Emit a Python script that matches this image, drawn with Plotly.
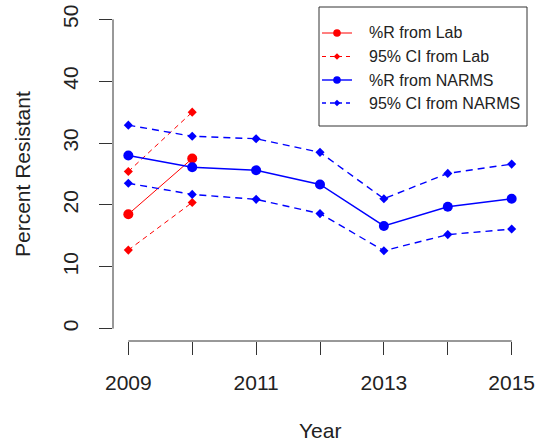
import plotly.graph_objects as go

years = [2009, 2010, 2011, 2012, 2013, 2014, 2015]
lab_years = [2009, 2010]
lab_pct = [18.5, 27.5]
lab_ci_upper = [25.4, 35.0]
lab_ci_lower = [12.7, 20.4]
narms_pct = [28.0, 26.1, 25.6, 23.3, 16.6, 19.7, 21.0]
narms_ci_upper = [32.9, 31.1, 30.7, 28.5, 21.0, 25.1, 26.6]
narms_ci_lower = [23.5, 21.7, 20.9, 18.6, 12.6, 15.2, 16.1]
x_tick_vals = [2009, 2010, 2011, 2012, 2013, 2014, 2015]
x_tick_text = ["2009", "", "2011", "", "2013", "", "2015"]
y_tick_vals = [0, 10, 20, 30, 40, 50]
legend_labels = ["%R from Lab", "95% CI from Lab", "%R from NARMS", "95% CI from NARMS"]

RED = "#FF0000"
BLUE = "#0000FF"
FONT = "Liberation Sans, Arial, sans-serif"
RED_DASH = "5px,4px"
BLUE_DASH = "7px,5px"

fig = go.Figure()

fig.add_trace(go.Scatter(x=lab_years, y=lab_pct, mode="lines+markers", name=legend_labels[0],
                         line=dict(color=RED, width=1), marker=dict(symbol="circle", size=10, color=RED)))
fig.add_trace(go.Scatter(x=lab_years, y=lab_ci_upper, mode="lines+markers", name=legend_labels[1],
                         line=dict(color=RED, width=1, dash=RED_DASH),
                         marker=dict(symbol="diamond", size=7, color=RED)))
fig.add_trace(go.Scatter(x=lab_years, y=lab_ci_lower, mode="lines+markers", name=legend_labels[1],
                         line=dict(color=RED, width=1, dash=RED_DASH),
                         marker=dict(symbol="diamond", size=7, color=RED)))
fig.add_trace(go.Scatter(x=years, y=narms_pct, mode="lines+markers", name=legend_labels[2],
                         line=dict(color=BLUE, width=1.4), marker=dict(symbol="circle", size=10, color=BLUE)))
fig.add_trace(go.Scatter(x=years, y=narms_ci_upper, mode="lines+markers", name=legend_labels[3],
                         line=dict(color=BLUE, width=1.4, dash=BLUE_DASH),
                         marker=dict(symbol="diamond", size=7, color=BLUE)))
fig.add_trace(go.Scatter(x=years, y=narms_ci_lower, mode="lines+markers", name=legend_labels[3],
                         line=dict(color=BLUE, width=1.4, dash=BLUE_DASH),
                         marker=dict(symbol="diamond", size=7, color=BLUE)))

# layout geometry (pixels)
W, H = 537, 445
ML, MR, MT, MB = 113, 10, 7, 104
PW, PH = W - ML - MR, H - MT - MB


def px_x(p):
    return (p - ML) / PW


def px_y(p):
    return (H - MB - p) / PH


axis_color = "#333333"
shapes = [
    dict(type="line", xref="x", yref="paper", x0=2009, x1=2015, y0=0, y1=0,
         line=dict(color=axis_color, width=1)),
    dict(type="line", xref="paper", yref="y", x0=0, x1=0, y0=0, y1=50,
         line=dict(color=axis_color, width=1)),
    # legend box
    dict(type="rect", xref="paper", yref="paper", x0=px_x(319), x1=px_x(527), y0=px_y(126), y1=px_y(7),
         line=dict(color=axis_color, width=1), fillcolor="rgba(0,0,0,0)"),
]
annotations = [
    dict(text="Year", xref="paper", yref="paper", x=0.5, y=px_y(444), showarrow=False,
         xanchor="center", yanchor="bottom", font=dict(size=21)),
    dict(text="Percent Resistant", xref="paper", yref="paper", x=px_x(22), y=0.5, showarrow=False,
         xanchor="center", yanchor="middle", textangle=-90, font=dict(size=21)),
]

legend_styles = [
    (RED, 1, None, "circle"),
    (RED, 1, "dash", "diamond"),
    (BLUE, 1.4, None, "circle"),
    (BLUE, 1.4, "dash", "diamond"),
]
row_y = [33, 56.5, 80, 103]
for label, (col, wid, dsh, sym), ry in zip(legend_labels, legend_styles, row_y):
    yy = px_y(ry)
    shapes.append(dict(type="line", xref="paper", yref="paper", x0=px_x(322), x1=px_x(352), y0=yy, y1=yy,
                       line=dict(color=col, width=wid, dash=("4px,4px" if dsh else "solid"))))
    cx = px_x(337)
    if sym == "circle":
        shapes.append(dict(type="circle", xref="paper", yref="paper", xsizemode="pixel", ysizemode="pixel",
                           xanchor=cx, yanchor=yy, x0=-3.8, x1=3.8, y0=-3.8, y1=3.8,
                           fillcolor=col, line=dict(width=0)))
    else:
        shapes.append(dict(type="path", xref="paper", yref="paper", xsizemode="pixel", ysizemode="pixel",
                           xanchor=cx, yanchor=yy, path="M -3.3 0 L 0 3.3 L 3.3 0 L 0 -3.3 Z",
                           fillcolor=col, line=dict(width=0)))
    annotations.append(dict(text=label, xref="paper", yref="paper", x=px_x(367), y=yy, showarrow=False,
                            xanchor="left", yanchor="middle", font=dict(size=16, color="#222222")))

fig.update_layout(
    width=W, height=H,
    margin=dict(l=ML, r=MR, t=MT, b=MB),
    paper_bgcolor="white", plot_bgcolor="white",
    font=dict(family=FONT, size=21, color="#222222"),
    showlegend=False,
    xaxis=dict(range=[2008.76, 2015.24], tickvals=x_tick_vals, ticktext=x_tick_text,
               ticks="outside", ticklen=13, tickcolor=axis_color, tickwidth=1, automargin=False,
               showline=False, showgrid=False, zeroline=False, ticklabelstandoff=10),
    yaxis=dict(range=[-2, 52], tickvals=y_tick_vals, ticks="outside", ticklen=13,
               tickcolor=axis_color, tickwidth=1, tickangle=-90, automargin=False,
               showline=False, showgrid=False, zeroline=False, ticklabelstandoff=13),
    shapes=shapes,
    annotations=annotations,
)

fig.write_html("out.html", config={"displayModeBar": False},
               post_script="document.body.style.margin='0px';document.body.style.overflow='hidden';")
